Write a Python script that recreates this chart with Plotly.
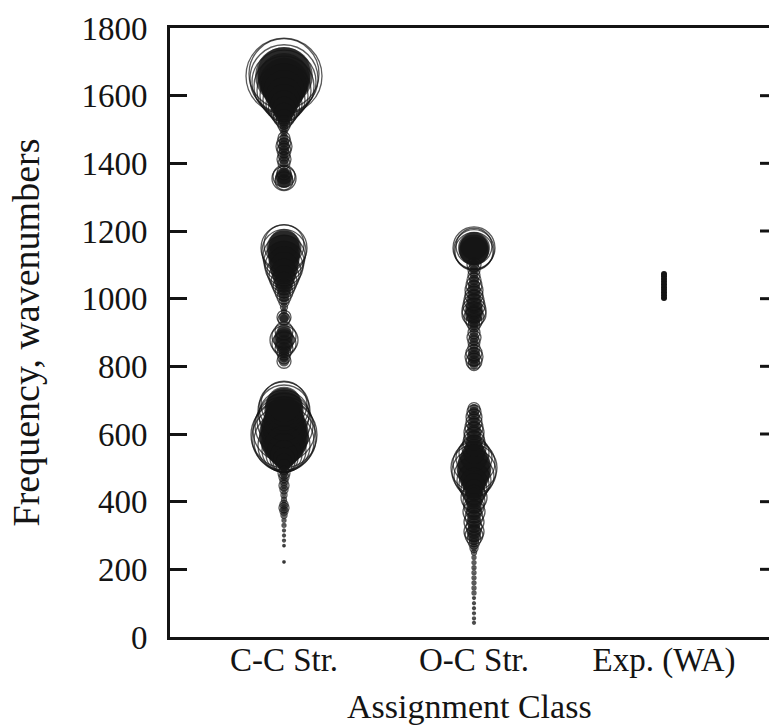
import plotly.graph_objects as go

# ---------------- data ----------------
categories = ["C-C Str.", "O-C Str.", "Exp. (WA)"]

# C-C stretch: computed frequencies (cm-1) and relative intensities (bubble diameter, px)
cc_freq = [1658, 1665, 1650, 1640, 1628, 1615, 1600, 1587, 1575, 1562, 1550, 1537, 1525, 1512, 1500, 1490,
           1475, 1462, 1450, 1438, 1425, 1412, 1400,
           1372, 1362, 1355, 1348,
           1150, 1160, 1140, 1125, 1110, 1095, 1080, 1065, 1050, 1035, 1020, 1005, 990, 975, 962,
           945, 940,
           905, 890, 878, 866, 852, 840, 825, 815,
           688, 680, 668, 655, 640, 625, 610, 598, 588, 578, 565, 552, 540, 528, 518, 508,
           495, 485, 472, 460, 448, 435, 420, 405, 392, 382, 372, 360, 345, 330, 315, 300, 285, 270, 222]
cc_size = [76, 70, 68, 64, 60, 54, 48, 42, 36, 31, 26, 21, 16, 12, 8, 6,
           12, 14, 16, 14, 12, 14, 12,
           14, 22, 24, 18,
           46, 40, 44, 42, 40, 38, 34, 30, 26, 22, 18, 14, 10, 7, 5,
           14, 12,
           18, 24, 28, 24, 18, 14, 12, 14,
           46, 50, 52, 50, 54, 58, 62, 66, 64, 60, 52, 44, 36, 28, 22, 16,
           10, 12, 10, 8, 10, 8, 6, 5, 8, 10, 8, 6, 4, 4, 3, 3, 3, 2.5, 2.5]

# O-C stretch
oc_freq = [1150, 1145, 1155, 1140,
           1100, 1085, 1070, 1055,
           1040, 1025, 1010, 995, 980, 965, 955, 945, 932, 920,
           900, 885, 872,
           855, 840, 828, 815, 805,
           675, 665, 650, 635, 620, 605, 590, 575, 560, 545, 530, 515, 500, 488, 475, 462, 450, 437, 425,
           412, 400, 385, 370, 355, 340, 325, 312, 300, 288, 275, 262,
           250, 235, 220, 205, 190, 175, 160, 145, 130, 115, 100, 85, 70, 55, 42]
oc_size = [42, 40, 36, 38,
           14, 12, 12, 14,
           16, 18, 18, 20, 22, 24, 24, 20, 16, 12,
           12, 14, 12,
           12, 16, 18, 16, 12,
           12, 14, 16, 16, 18, 20, 20, 22, 24, 30, 36, 42, 46, 44, 40, 34, 30, 26, 22,
           26, 22, 20, 22, 18, 20, 16, 20, 18, 14, 10, 8,
           5, 4, 4, 4, 4, 4, 4, 4, 4, 3, 3, 3, 3, 3, 3]

# Experimental (WA) frequencies
exp_freq = [1002, 1010, 1018, 1026, 1034, 1042, 1050, 1058, 1066, 1073]

y_ticks = [0, 200, 400, 600, 800, 1000, 1200, 1400, 1600, 1800]

# ---------------- figure ----------------
FONT = "Liberation Serif, Times New Roman, serif"
INK = "#141414"
CORE = 0.76

fig = go.Figure()

groups = [(0, cc_freq, cc_size), (1, oc_freq, oc_size)]
for xi, fr, sz in groups:
    order = sorted(range(len(sz)), key=lambda i: -sz[i])
    f_s = [fr[i] for i in order]
    s_s = [sz[i] for i in order]
    # outline rings
    fig.add_trace(go.Scatter(
        x=[xi] * len(f_s), y=f_s, mode="markers",
        marker=dict(symbol="circle-open", size=s_s, color=INK, line=dict(width=1.3, color=INK)),
        showlegend=False, hoverinfo="y"))
    # dense cores from overlapping circles
    fig.add_trace(go.Scatter(
        x=[xi] * len(f_s), y=f_s, mode="markers",
        marker=dict(symbol="circle", size=[max(s * CORE, 2.5) for s in s_s], color=INK,
                    line=dict(width=0)),
        showlegend=False, hoverinfo="skip"))

fig.add_trace(go.Scatter(
    x=[2] * len(exp_freq), y=exp_freq, mode="markers",
    marker=dict(symbol="circle", size=6, color=INK, line=dict(width=0)),
    showlegend=False, hoverinfo="y"))

# right-hand inward ticks (right frame edge lies just outside the picture)
for t in y_ticks[1:-1]:
    fig.add_shape(type="line", xref="paper", yref="y", x0=0.985, x1=1.0, y0=t, y1=t,
                  line=dict(color=INK, width=3))

fig.update_layout(
    width=769, height=727,
    margin=dict(l=170, r=0, t=28, b=90, autoexpand=False),
    paper_bgcolor="white", plot_bgcolor="white",
    font=dict(family=FONT, size=33, color=INK),
    xaxis=dict(range=[-0.6, 2.5526], tickvals=[0, 1, 2], ticktext=categories,
               showgrid=False, zeroline=False, showline=True, linewidth=3, linecolor=INK,
               mirror=True, ticks="", ticklabelstandoff=-9, automargin=False,
               tickfont=dict(family=FONT, size=33, color=INK)),
    yaxis=dict(range=[0, 1800], tickvals=y_ticks, showgrid=False, zeroline=False,
               showline=True, linewidth=3, linecolor=INK, ticks="inside", ticklen=17,
               tickwidth=3, tickcolor=INK, ticklabelstandoff=13, automargin=False,
               tickfont=dict(family=FONT, size=33, color=INK)),
    annotations=[
        dict(text="Frequency, wavenumbers", xref="paper", yref="paper",
             x=(25 - 170) / 599, y=0.5, xanchor="center", yanchor="middle",
             textangle=-90, showarrow=False, font=dict(family=FONT, size=38, color=INK)),
        dict(text="Assignment Class", xref="paper", yref="paper",
             x=0.5, y=(637 - 706) / 609, xanchor="center", yanchor="middle",
             showarrow=False, font=dict(family=FONT, size=34, color=INK)),
    ],
)

fig.write_html("out.html", config={"displayModeBar": False},
               post_script="document.body.style.margin='0';document.body.style.overflow='hidden';")
